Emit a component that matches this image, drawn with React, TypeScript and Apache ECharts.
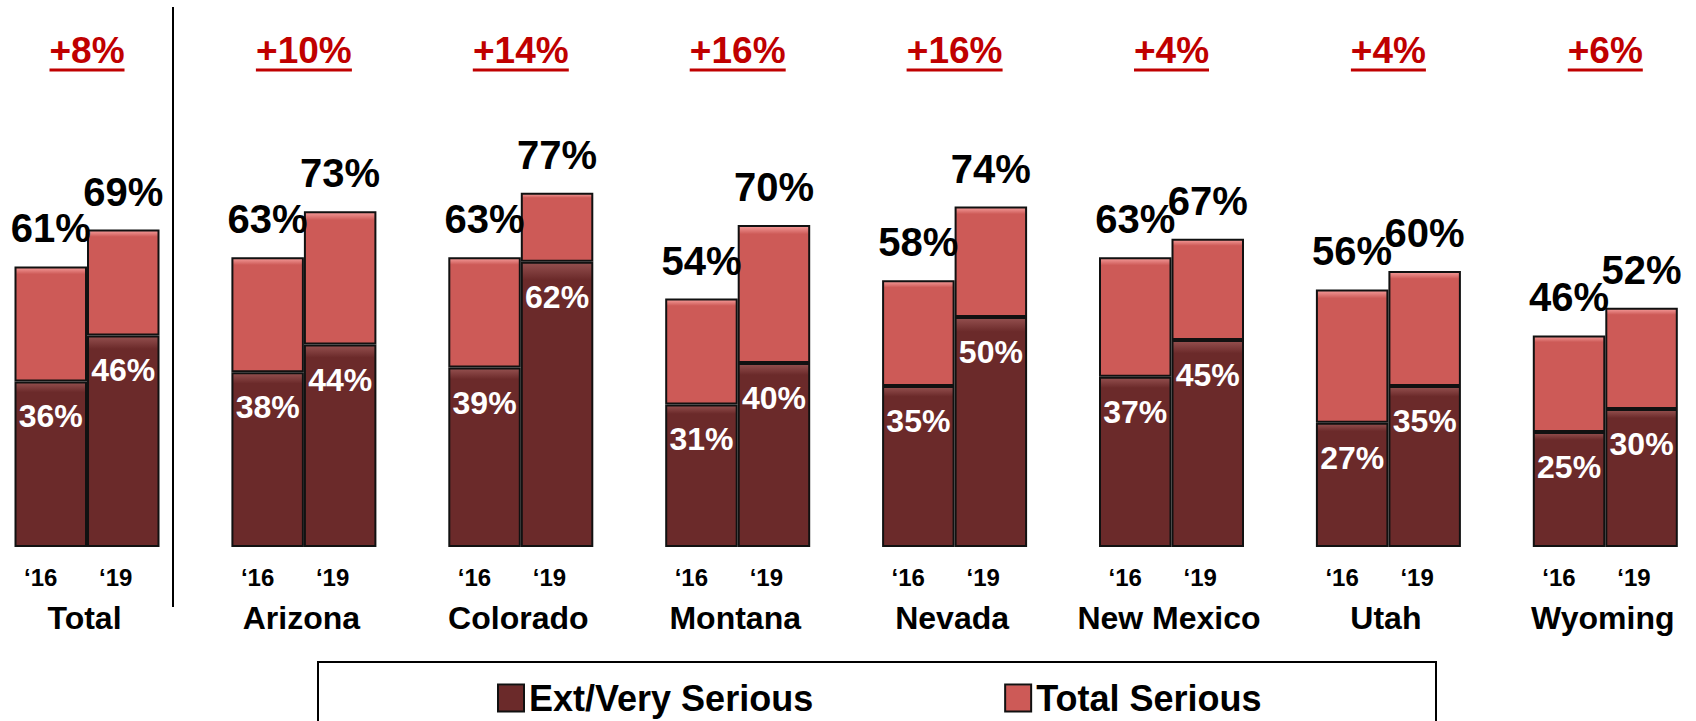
import React, { useEffect, useRef } from 'react';
import * as echarts from 'echarts';

const categories = ['Total', 'Arizona', 'Colorado', 'Montana', 'Nevada', 'New Mexico', 'Utah', 'Wyoming'];
const yearLabels = ['\u201816', '\u201819'];
const ext16 = [36, 38, 39, 31, 35, 37, 27, 25];
const total16 = [61, 63, 63, 54, 58, 63, 56, 46];
const ext19 = [46, 44, 62, 40, 50, 45, 35, 30];
const total19 = [69, 73, 77, 70, 74, 67, 60, 52];
const changes = ['+8%', '+10%', '+14%', '+16%', '+16%', '+4%', '+4%', '+6%'];
const seriesNames = ['Ext/Very Serious', 'Total Serious'];

const OFF = 40;
const W = 1696 + 2 * OFF;
const H = 721;
const DARK = '#6B2A2A';
const LIGHT = '#CD5A57';
const RED = '#C00000';
const FONT = 'Liberation Sans';
const BAND = 216.9;

const rest16 = total16.map((t, i) => t - ext16[i]);
const rest19 = total19.map((t, i) => t - ext19[i]);

function grad(top: string, base: string) {
  return new echarts.graphic.LinearGradient(0, 0, 0, 1, [
    { offset: 0, color: top },
    { offset: 0.06, color: base },
    { offset: 1, color: base },
  ]);
}

export default function App() {
  const ref = useRef<HTMLDivElement>(null);
  useEffect(() => {
    if (!ref.current) return;
    const chart = echarts.init(ref.current, undefined, { renderer: 'svg' });

    const barStyle = (top: string, base: string) => ({
      color: grad(top, base),
      borderColor: '#111',
      borderWidth: 2,
    });

    const innerLabel = {
      show: true,
      position: 'insideTop' as const,
      distance: 19,
      color: '#fff',
      fontFamily: FONT,
      fontWeight: 'bold' as const,
      fontSize: 32,
      formatter: '{c}%',
    };
    const topLabel = (totals: number[]) => ({
      show: true,
      position: 'top' as const,
      distance: 18,
      color: '#000',
      fontFamily: FONT,
      fontWeight: 'bold' as const,
      fontSize: 40,
      formatter: (p: any) => totals[p.dataIndex] + '%',
    });

    const uRich: Record<string, any> = {};
    changes.forEach((c, i) => {
      let w = 0;
      for (const ch of c) w += ch === '+' ? 0.584 : ch === '%' ? 0.889 : 0.556;
      uRich['u' + i] = {
        width: Math.round(w * 37),
        height: 3,
        lineHeight: 3,
        fontSize: 3,
        backgroundColor: RED,
      };
    });

    chart.setOption({
      animation: false,
      grid: {
        left: 87 - BAND / 2 + OFF,
        top: 87,
        width: BAND * categories.length,
        height: 460,
      },
      legend: {
        data: seriesNames,
        left: 497 + OFF,
        top: 680,
        padding: 0,
        itemWidth: 26,
        itemHeight: 27,
        itemGap: 191,
        icon: 'rect',
        textStyle: { fontFamily: FONT, fontWeight: 'bold', fontSize: 36, color: '#000' },
      },
      xAxis: [
        {
          type: 'category',
          data: categories,
          position: 'bottom',
          axisLine: { show: false },
          axisTick: { show: false },
          axisLabel: {
            interval: 0,
            margin: 18,
            padding: [0, 17, 0, 0],
            formatter: () => `{a|${yearLabels[0]}}{b|${yearLabels[1]}}`,
            rich: {
              a: { width: 75, align: 'left', fontFamily: FONT, fontWeight: 'bold', fontSize: 24, color: '#000' },
              b: { width: 34, align: 'left', fontFamily: FONT, fontWeight: 'bold', fontSize: 24, color: '#000' },
            },
          },
        },
        {
          type: 'category',
          data: categories,
          position: 'bottom',
          axisLine: { show: false },
          axisTick: { show: false },
          axisLabel: {
            interval: 0,
            margin: 55,
            padding: [0, 5, 0, 0],
            fontFamily: FONT,
            fontWeight: 'bold',
            fontSize: 32,
            color: '#000',
          },
        },
        {
          type: 'category',
          data: categories,
          position: 'top',
          axisLine: { show: false },
          axisTick: { show: false },
          axisLabel: {
            interval: 0,
            margin: 15.5,
            formatter: (_v: string, i: number) => `{t|${changes[i]}}\n{u${i}| }`,
            rich: {
              t: { fontFamily: FONT, fontWeight: 'bold', fontSize: 37, lineHeight: 37, color: RED },
              ...uRich,
            },
          },
        },
      ],
      yAxis: { type: 'value', min: 0, max: 100, show: false },
      series: [
        {
          name: seriesNames[0],
          type: 'bar',
          stack: 's16',
          xAxisIndex: 0,
          data: ext16,
          barWidth: 72.5,
          barGap: '0%',
          itemStyle: barStyle('#94504F', DARK),
          label: innerLabel,
        },
        {
          name: seriesNames[1],
          type: 'bar',
          stack: 's16',
          xAxisIndex: 0,
          data: rest16,
          barWidth: 72.5,
          barGap: '0%',
          itemStyle: barStyle('#F59C9A', LIGHT),
          label: topLabel(total16),
        },
        {
          name: seriesNames[0],
          type: 'bar',
          stack: 's19',
          xAxisIndex: 0,
          data: ext19,
          barWidth: 72.5,
          barGap: '0%',
          itemStyle: barStyle('#94504F', DARK),
          label: innerLabel,
        },
        {
          name: seriesNames[1],
          type: 'bar',
          stack: 's19',
          xAxisIndex: 0,
          data: rest19,
          barWidth: 72.5,
          barGap: '0%',
          itemStyle: barStyle('#F59C9A', LIGHT),
          label: topLabel(total19),
        },
      ],
      graphic: [
        {
          type: 'line',
          shape: { x1: 173 + OFF, y1: 7, x2: 173 + OFF, y2: 607 },
          style: { stroke: '#000', lineWidth: 2 },
        },
        {
          type: 'rect',
          shape: { x: 318 + OFF, y: 662, width: 1118, height: 100 },
          style: { fill: 'none', stroke: '#000', lineWidth: 2 },
        },
      ],
    });
    return () => chart.dispose();
  }, []);

  return (
    <div style={{ position: 'fixed', left: 0, top: 0, width: 1696, height: 721, overflow: 'hidden', background: '#fff' }}>
      <div ref={ref} style={{ position: 'absolute', left: -OFF, top: 0, width: W, height: H }} />
    </div>
  );
}
